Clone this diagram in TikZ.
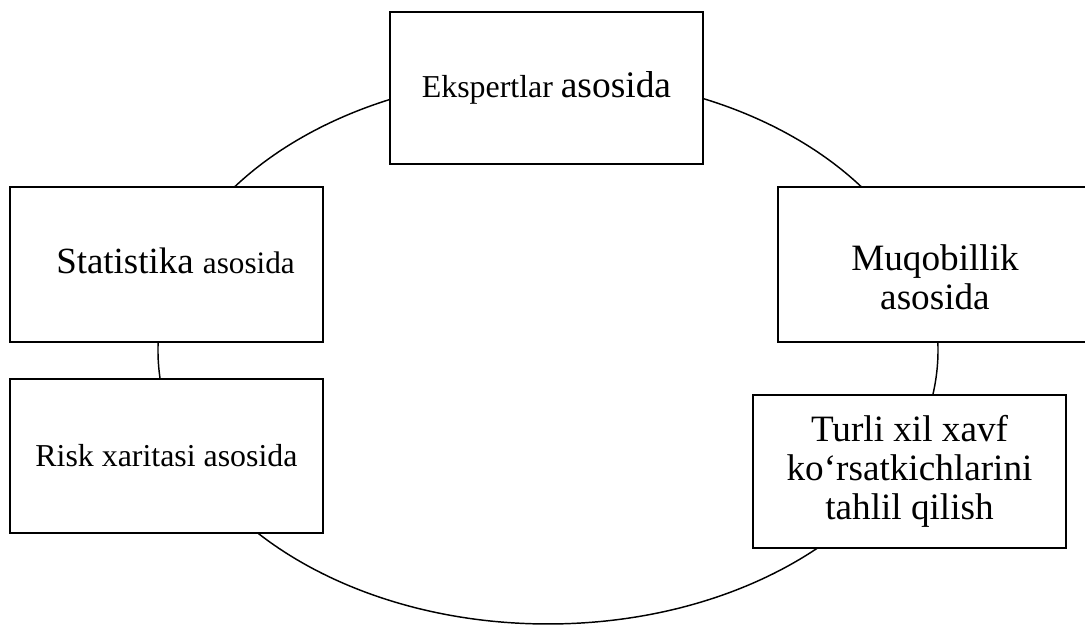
\documentclass[tikz,border=0pt]{standalone}
\usepackage{fontspec}
\setmainfont{Liberation Serif}
\begin{document}
\begin{tikzpicture}[usul/.style={draw,fill=white,line width=1.4pt,align=center,inner sep=0pt,minimum width=8.281cm}]
  \useasboundingbox (-14.499,-7.355) rectangle (14.208,9.260);
  \draw[line width=1.1pt] (0,0) ellipse [x radius=10.319, y radius=7.249];
  \node[usul,minimum height=4.022cm] (ekspert) at (-0.040,6.932) {\fontsize{24}{28}\selectfont Ekspertlar \fontsize{28.2}{33}\selectfont asosida};
  \node[usul,minimum height=4.101cm] (statistika) at (-10.094,2.262) {};
  \node[align=center,inner sep=0pt] (statmatn) at ([xshift=0.24cm,yshift=0.1cm]statistika.center) {\fontsize{27.8}{33}\selectfont Statistika \fontsize{23.5}{28}\selectfont asosida};
  \node[usul,minimum width=8.387cm,minimum height=4.101cm] (muqobil) at (10.279,2.262) {};
  \node[align=center,inner sep=0pt,font=\fontsize{28}{30}\selectfont] (muqmatn) at ([xshift=-0.04cm,yshift=-0.34cm]muqobil.center) {Muqobillik\\asosida};
  \node[usul,minimum height=4.075cm,font=\fontsize{24}{28}\selectfont] (risk) at (-10.094,-2.805) {Risk xaritasi asosida};
  \node[usul,minimum height=4.048cm,font=\fontsize{28}{29.6}\selectfont] (xavf) at (9.565,-3.215) {Turli xil xavf\\ko‘rsatkichlarini\\tahlil qilish};
\end{tikzpicture}
\end{document}
